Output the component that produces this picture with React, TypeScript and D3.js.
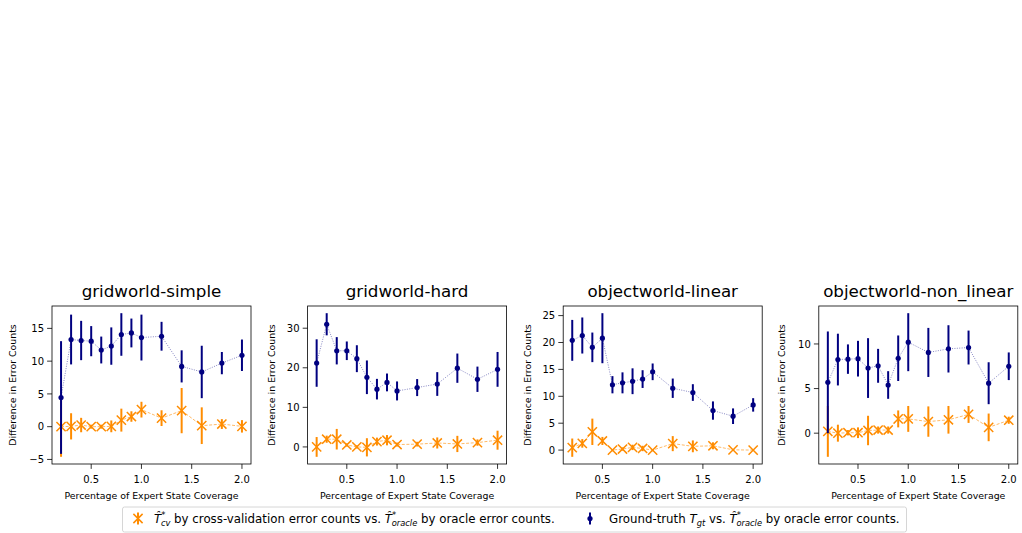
import React from "react";
import * as d3 from "d3";

// coverage levels shared by every panel
const coverage = [0.2, 0.3, 0.4, 0.5, 0.6, 0.7, 0.8, 0.9, 1.0, 1.2, 1.4, 1.6, 1.8, 2.0];
const xTicks = [0.5, 1.0, 1.5, 2.0];

const titles = ["gridworld-simple", "gridworld-hard", "objectworld-linear", "objectworld-non_linear"];

// ground truth vs oracle
const simpleGtMean = [4.45, 13.3, 13.15, 13.05, 11.7, 12.3, 14.07, 14.3, 13.6, 13.8, 9.2, 8.35, 9.7, 10.9];
const simpleGtErr = [8.6, 3.8, 3.0, 2.3, 2.05, 2.85, 3.25, 2.2, 3.5, 2.2, 2.45, 4.0, 1.7, 2.4];
const hardGtMean = [21.2, 31.0, 24.3, 24.3, 22.3, 17.6, 14.6, 16.3, 14.15, 15.0, 15.9, 19.9, 17.1, 19.6];
const hardGtErr = [6.0, 2.8, 3.45, 2.35, 3.4, 4.25, 2.6, 2.25, 2.4, 2.15, 3.0, 3.7, 3.2, 4.4];
const linGtMean = [20.4, 21.3, 19.1, 20.8, 12.15, 12.5, 12.8, 13.2, 14.55, 11.5, 10.7, 7.35, 6.3, 8.4];
const linGtErr = [3.8, 3.35, 2.75, 4.65, 1.6, 1.95, 2.4, 1.65, 1.55, 1.8, 1.55, 1.7, 1.45, 1.25];
const nonGtMean = [5.7, 8.25, 8.3, 8.35, 7.3, 7.55, 5.4, 8.4, 10.2, 9.05, 9.45, 9.6, 5.6, 7.5];
const nonGtErr = [5.7, 2.9, 1.65, 2.0, 3.35, 1.9, 1.55, 2.55, 3.25, 2.75, 2.65, 1.9, 2.35, 1.55];

// cross-validation vs oracle
const simpleCvMean = [0, 0.05, 0.25, 0, 0, 0.05, 1.0, 1.55, 2.6, 1.3, 2.45, 0.15, 0.4, 0.05];
const simpleCvErr = [4.6, 2.0, 1.1, 0.3, 0.3, 0.9, 1.75, 0.8, 1.2, 1.2, 3.45, 2.8, 0.75, 0.95];
const hardCvMean = [0.0, 1.95, 1.95, 0.5, 0.0, -0.1, 1.35, 1.7, 0.6, 0.7, 1.0, 0.75, 1.1, 1.7];
const hardCvErr = [2.5, 0.9, 2.6, 0.4, 0.4, 2.3, 1.0, 1.3, 0.5, 0.6, 1.4, 2.05, 0.8, 2.4];
const linCvMean = [0.45, 1.25, 3.4, 1.7, 0, 0.2, 0.5, 0.3, 0, 1.2, 0.7, 0.8, 0.05, 0];
const linCvErr = [1.7, 0.8, 2.45, 0.75, 0.2, 0.3, 0.5, 0.5, 0.2, 1.4, 1.1, 0.65, 0.1, 0.05];
const nonCvMean = [0.2, 0, 0.05, 0.05, 0.3, 0.35, 0.35, 1.6, 1.6, 1.3, 1.5, 2.1, 0.65, 1.45];
const nonCvErr = [2.85, 0.95, 0.3, 0.6, 1.65, 0.4, 0.4, 0.95, 1.45, 1.7, 1.55, 0.95, 1.55, 0.4];

const yTicksList = [
  [-5, 0, 5, 10, 15],
  [0, 10, 20, 30],
  [0, 5, 10, 15, 20, 25],
  [0, 5, 10],
];

const panels = [
  { gt: simpleGtMean, gtErr: simpleGtErr, cv: simpleCvMean, cvErr: simpleCvErr },
  { gt: hardGtMean, gtErr: hardGtErr, cv: hardCvMean, cvErr: hardCvErr },
  { gt: linGtMean, gtErr: linGtErr, cv: linCvMean, cvErr: linCvErr },
  { gt: nonGtMean, gtErr: nonGtErr, cv: nonCvMean, cvErr: nonCvErr },
];

const NAVY = "#000080";
const ORANGE = "#ff8c00";
const FONT = "DejaVu Sans";

const axLeft0 = 52;
const axStep = 255.6;
const axW = 199;
const axTop = 306;
const axBottom = 464;
const ylabelOffset = [39, 36, 36, 37];

const Panel = ({ i }: { i: number }) => {
  const p = panels[i];
  const left = axLeft0 + i * axStep;
  const x = d3.scaleLinear().domain([0.2 - 0.09, 2.0 + 0.09]).range([left, left + axW]);
  const lows = [...p.gt.map((v, k) => v - p.gtErr[k]), ...p.cv.map((v, k) => v - p.cvErr[k])];
  const highs = [...p.gt.map((v, k) => v + p.gtErr[k]), ...p.cv.map((v, k) => v + p.cvErr[k])];
  const lo = d3.min(lows)!;
  const hi = d3.max(highs)!;
  const pad = (hi - lo) * 0.05;
  const y = d3.scaleLinear().domain([lo - pad, hi + pad]).range([axBottom, axTop]);
  const ln = d3
    .line<number>()
    .x((_, k) => x(coverage[k]))
    .y((v) => y(v));

  return (
    <g>
      <text x={left + axW / 2} y={297} textAnchor="middle" fontSize={16.7} fontFamily={FONT}>
        {titles[i]}
      </text>
      {/* cross-validation series */}
      <path d={ln(p.cv)!} fill="none" stroke={ORANGE} strokeWidth={0.8} strokeDasharray="3,1.6" opacity={0.75} />
      {p.cv.map((v, k) => (
        <line key={"ce" + k} x1={x(coverage[k])} x2={x(coverage[k])} y1={y(v - p.cvErr[k])} y2={y(v + p.cvErr[k])} stroke={ORANGE} strokeWidth={2} />
      ))}
      {p.cv.map((v, k) => {
        const cx = x(coverage[k]);
        const cy = y(v);
        const s = 4.6;
        return (
          <path key={"cm" + k} d={`M${cx - s},${cy - s}L${cx + s},${cy + s}M${cx - s},${cy + s}L${cx + s},${cy - s}`} stroke={ORANGE} strokeWidth={1.5} />
        );
      })}
      {/* ground-truth series */}
      <path d={ln(p.gt)!} fill="none" stroke={NAVY} strokeWidth={0.8} strokeDasharray="1,1.4" opacity={0.6} />
      {p.gt.map((v, k) => (
        <line key={"ge" + k} x1={x(coverage[k])} x2={x(coverage[k])} y1={y(v - p.gtErr[k])} y2={y(v + p.gtErr[k])} stroke={NAVY} strokeWidth={2} />
      ))}
      {p.gt.map((v, k) => (
        <circle key={"gm" + k} cx={x(coverage[k])} cy={y(v)} r={2.6} fill={NAVY} />
      ))}
      {/* frame */}
      <rect x={left} y={axTop} width={axW} height={axBottom - axTop} fill="none" stroke="black" strokeWidth={0.8} />
      {xTicks.map((t) => (
        <g key={"xt" + t}>
          <line x1={x(t)} x2={x(t)} y1={axBottom} y2={axBottom + 4.9} stroke="black" strokeWidth={0.8} />
          <text x={x(t)} y={483} textAnchor="middle" fontSize={10} fontFamily={FONT}>
            {d3.format(".1f")(t)}
          </text>
        </g>
      ))}
      {yTicksList[i].map((t) => (
        <g key={"yt" + t}>
          <line x1={left - 4.9} x2={left} y1={y(t)} y2={y(t)} stroke="black" strokeWidth={0.8} />
          <text x={left - 8} y={y(t) + 3.6} textAnchor="end" fontSize={10} fontFamily={FONT}>
            {t < 0 ? "\u2212" + Math.abs(t) : t}
          </text>
        </g>
      ))}
      <text x={left + axW / 2} y={498.5} textAnchor="middle" fontSize={9.4} fontFamily={FONT}>
        Percentage of Expert State Coverage
      </text>
      <text
        transform={`translate(${left - ylabelOffset[i] + 3.3},${(axTop + axBottom) / 2}) rotate(-90)`}
        textAnchor="middle"
        fontSize={9.4}
        fontFamily={FONT}
      >
        Difference in Error Counts
      </text>
    </g>
  );
};

// T-hat with a star on top and a subscript, followed by plain text
const HatT = ({ sub, after }: { sub: string; after: string }) => (
  <>
    <tspan fontStyle="italic">{"T\u0302"}</tspan>
    <tspan fontSize={8.3} dy={-5}>*</tspan>
    <tspan fontSize={8.3} fontStyle="italic" dx={-4.5} dy={8}>{sub}</tspan>
    <tspan dy={-3}>{after}</tspan>
  </>
);

const Legend = () => {
  const ly = 518.5;
  return (
    <g fontFamily={FONT} fontSize={11.8}>
      <rect x={122.5} y={507} width={784} height={25} rx={2} fill="white" stroke="#cccccc" strokeWidth={0.8} />
      <line x1={138} x2={138} y1={ly - 6} y2={ly + 6} stroke={ORANGE} strokeWidth={2} />
      <path d={`M${138 - 4.6},${ly - 4.6}L${138 + 4.6},${ly + 4.6}M${138 - 4.6},${ly + 4.6}L${138 + 4.6},${ly - 4.6}`} stroke={ORANGE} strokeWidth={1.5} />
      <text x={154} y={ly + 4}>
        <HatT sub="cv" after=" by cross-validation error counts vs. " />
        <HatT sub="oracle" after=" by oracle error counts." />
      </text>
      <line x1={590} x2={590} y1={ly - 6} y2={ly + 6} stroke={NAVY} strokeWidth={2} />
      <circle cx={590} cy={ly} r={2.6} fill={NAVY} />
      <text x={609} y={ly + 4}>
        <tspan>Ground-truth </tspan>
        <tspan fontStyle="italic">T</tspan>
        <tspan fontSize={8.3} fontStyle="italic" dy={3}>gt</tspan>
        <tspan dy={-3}> vs. </tspan>
        <HatT sub="oracle" after=" by oracle error counts." />
      </text>
    </g>
  );
};

export default function App() {
  return (
    <svg width={1022} height={533} style={{ position: "absolute", left: 0, top: 0 }}>
      <rect width={1022} height={533} fill="white" />
      {panels.map((_, i) => (
        <Panel key={i} i={i} />
      ))}
      <Legend />
    </svg>
  );
}
